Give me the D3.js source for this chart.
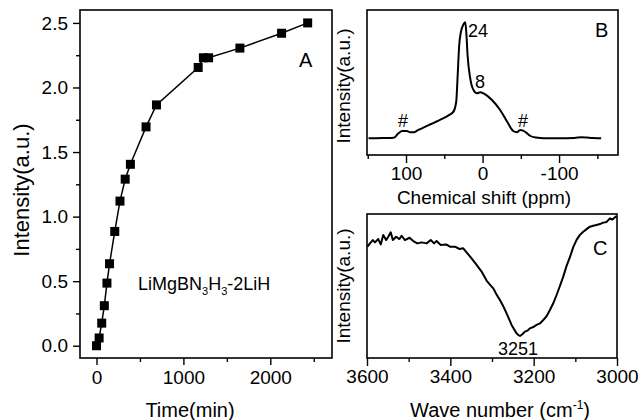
<!DOCTYPE html>
<html>
<head>
<meta charset="utf-8">
<script src="https://cdn.jsdelivr.net/npm/d3@7"></script>
<style>
  body { margin: 0; background: #fff; }
  svg text { font-family: "Liberation Sans", Arial, sans-serif; fill: #000; }
</style>
</head>
<body>
<svg id="fig" width="640" height="420"></svg>
<script>
// panel A: kinetics
const timeMin = [0, 30, 60, 90, 120, 150, 210, 270, 330, 390, 570, 690, 1170, 1230, 1290, 1650, 2130, 2430]
const intensA = [0.0, 0.06, 0.175, 0.31, 0.485, 0.635, 0.885, 1.12, 1.29, 1.405, 1.695, 1.865, 2.155, 2.23, 2.23, 2.305, 2.42, 2.5]

// panel B: NMR (ppm, relative intensity)
const ppm = [149, 130, 116, 110, 105, 99, 94.5, 90, 84, 76, 68, 60, 51, 44, 38, 34.4, 32.7, 30.5, 28.2, 24.8, 22.6, 21.3, 19.6, 16.1, 11.8, 7.3, 3, -3.5, -12.3, -23, -32, -40, -45, -49, -53, -57, -62, -70, -80, -100, -120, -130, -137, -145, -155]
const nmr = [0, 0.002, 0.005, 0.043, 0.063, 0.063, 0.052, 0.052, 0.072, 0.097, 0.121, 0.145, 0.173, 0.2, 0.23, 0.315, 0.517, 0.804, 0.919, 0.983, 1.0, 0.919, 0.718, 0.517, 0.416, 0.388, 0.397, 0.379, 0.33, 0.244, 0.144, 0.063, 0.052, 0.072, 0.066, 0.049, 0.022, 0.006, 0.0, 0.0, 0.003, 0.01, 0.006, 0.002, 0.0]

// panel C: IR (wave number, relative intensity)
const waveNum = [3599, 3593, 3586, 3581, 3573, 3567, 3561, 3554, 3549, 3543, 3538, 3530, 3522, 3517, 3509, 3498, 3489, 3479, 3469, 3457, 3447, 3439, 3433, 3423, 3410, 3401, 3389, 3378, 3369, 3359, 3349, 3337, 3325, 3313, 3305, 3297, 3289, 3281, 3273, 3265, 3259, 3253, 3247, 3241, 3236, 3233, 3227, 3221, 3215, 3209, 3201, 3193, 3185, 3177, 3169, 3161, 3153, 3145, 3137, 3129, 3121, 3113, 3105, 3097, 3089, 3081, 3073, 3065, 3057, 3049, 3041, 3033, 3025, 3017, 3011, 3005, 3001]
const irInt = [0.773, 0.796, 0.819, 0.803, 0.826, 0.789, 0.854, 0.819, 0.842, 0.873, 0.819, 0.842, 0.826, 0.849, 0.819, 0.835, 0.812, 0.796, 0.803, 0.796, 0.819, 0.796, 0.812, 0.785, 0.789, 0.773, 0.773, 0.757, 0.762, 0.727, 0.692, 0.646, 0.6, 0.538, 0.51, 0.484, 0.44, 0.403, 0.36, 0.31, 0.27, 0.23, 0.2, 0.171, 0.158, 0.153, 0.165, 0.183, 0.19, 0.206, 0.215, 0.23, 0.24, 0.264, 0.29, 0.333, 0.38, 0.4375, 0.5, 0.565, 0.64, 0.7, 0.77, 0.82, 0.855, 0.877, 0.895, 0.912, 0.918, 0.924, 0.93, 0.94, 0.945, 0.97, 0.962, 0.977, 0.985]

const xTicksA = [0, 1000, 2000], xMinorA = [500, 1500, 2500]
const yTicksA = [0, 0.5, 1.0, 1.5, 2.0, 2.5], yMinorA = [0.25, 0.75, 1.25, 1.75, 2.25]
const xTicksB = [100, 0, -100], xMinorB = [150, 50, -50, -150]
const xTicksC = [3600, 3400, 3200, 3000], xMinorC = [3500, 3300, 3100]

const svg = d3.select('#fig')
const plain = d => String(d)   // keep ascii hyphen for negatives

function frame(x0, y0, x1, y1) {
    svg.append('rect')
        .attr('x', x0).attr('y', y0)
        .attr('width', x1 - x0).attr('height', y1 - y0)
        .attr('fill', 'none').attr('stroke', '#000').attr('stroke-width', 1.6);
}

function styleAxis(g, fs) {
    g.select('.domain').remove();
    g.selectAll('line').attr('stroke', '#000').attr('stroke-width', 1.4);
    g.selectAll('text').style('font-size', fs + 'px').attr('fill', '#000')
        .style('font-family', '"Liberation Sans", Arial, sans-serif');
}

function label(x, y, txt, fs, anchor) {
    return svg.append('text').attr('x', x).attr('y', y)
        .attr('text-anchor', anchor || 'start')
        .style('font-size', fs + 'px').text(txt);
}

// ---------- A ----------
const xA = d3.scaleLinear().domain([-190, 2710]).range([80, 332])
const yA = d3.scaleLinear().domain([-0.095, 2.6]).range([358, 10])

svg.append('g').attr('transform', 'translate(0,358)')
    .call(d3.axisBottom(xA).tickValues(xTicksA).tickFormat(plain).tickSize(7).tickPadding(6))
    .call(g => styleAxis(g, 19));
svg.append('g').attr('transform', 'translate(0,358)')
    .call(d3.axisBottom(xA).tickValues(xMinorA).tickFormat('').tickSize(4))
    .call(g => styleAxis(g, 19));
svg.append('g').attr('transform', 'translate(80,0)')
    .call(d3.axisLeft(yA).tickValues(yTicksA).tickFormat(d3.format('.1f')).tickSize(7).tickPadding(5))
    .call(g => styleAxis(g, 19));
svg.append('g').attr('transform', 'translate(80,0)')
    .call(d3.axisLeft(yA).tickValues(yMinorA).tickFormat('').tickSize(4))
    .call(g => styleAxis(g, 19));
frame(80, 10, 332, 358);

const ptsA = timeMin.map((t, i) => [t, intensA[i]])
svg.append('path').datum(ptsA)
    .attr('d', d3.line().x(d => xA(d[0])).y(d => yA(d[1])))
    .attr('fill', 'none').attr('stroke', '#000').attr('stroke-width', 1.5);
svg.append('g').selectAll('rect').data(ptsA).join('rect')
    .attr('x', d => xA(d[0]) - 4.5).attr('y', d => yA(d[1]) - 4.5)
    .attr('width', 9).attr('height', 9).attr('fill', '#000');

label(299, 67, 'A', 20);
const formula = label(138, 290, '', 18)
formula.append('tspan').text('LiMgBN')
formula.append('tspan').attr('dy', 5).style('font-size', '11px').text('3')
formula.append('tspan').attr('dy', -5).text('H')
formula.append('tspan').attr('dy', 5).style('font-size', '11px').text('3')
formula.append('tspan').attr('dy', -5).text('-2LiH')
label(190, 417, 'Time(min)', 20, 'middle');
svg.append('text').attr('transform', 'translate(29,190) rotate(-90)')
    .attr('text-anchor', 'middle').style('font-size', '22px').text('Intensity(a.u.)');

// ---------- B ----------
const xB = d3.scaleLinear().domain([151, -177]).range([367, 618])
const yB = d3.scaleLinear().domain([-0.144, 1.106]).range([155, 10])

svg.append('g').attr('transform', 'translate(0,155)')
    .call(d3.axisBottom(xB).tickValues(xTicksB).tickFormat(plain).tickSize(8).tickPadding(4))
    .call(g => styleAxis(g, 19));
svg.append('g').attr('transform', 'translate(0,155)')
    .call(d3.axisBottom(xB).tickValues(xMinorB).tickFormat('').tickSize(4))
    .call(g => styleAxis(g, 19));
frame(367, 10, 618, 155);

svg.append('path').datum(ppm.map((p, i) => [p, nmr[i]]))
    .attr('d', d3.line().x(d => xB(d[0])).y(d => yB(d[1])).curve(d3.curveMonotoneX))
    .attr('fill', 'none').attr('stroke', '#000').attr('stroke-width', 2);

label(595, 37, 'B', 20);
label(468, 37, '24', 18);
label(475, 88, '8', 18);
label(403, 127, '#', 18, 'middle');
label(523, 127, '#', 18, 'middle');
label(484, 204, 'Chemical shift (ppm)', 19, 'middle');
svg.append('text').attr('transform', 'translate(350,86) rotate(-90)')
    .attr('text-anchor', 'middle').style('font-size', '19px').text('Intensity(a.u.)');

// ---------- C ----------
const xC = d3.scaleLinear().domain([3600, 3000]).range([367, 617])
const yC = d3.scaleLinear().domain([0, 1]).range([358, 214])

svg.append('g').attr('transform', 'translate(0,358)')
    .call(d3.axisBottom(xC).tickValues(xTicksC).tickFormat(plain).tickSize(8).tickPadding(4))
    .call(g => styleAxis(g, 19));
svg.append('g').attr('transform', 'translate(0,358)')
    .call(d3.axisBottom(xC).tickValues(xMinorC).tickFormat('').tickSize(4))
    .call(g => styleAxis(g, 19));
frame(367, 214, 617, 358);

svg.append('path').datum(waveNum.map((w, i) => [w, irInt[i]]))
    .attr('d', d3.line().x(d => xC(d[0])).y(d => yC(d[1])))
    .attr('fill', 'none').attr('stroke', '#000').attr('stroke-width', 2).attr('stroke-linejoin', 'round');

label(593, 255, 'C', 20);
label(518, 355, '3251', 18, 'middle');
const wn = label(500, 417, '', 20, 'middle')
wn.append('tspan').text('Wave number (cm')
wn.append('tspan').attr('dy', -8).style('font-size', '12px').text('-1')
wn.append('tspan').attr('dy', 8).text(')')
svg.append('text').attr('transform', 'translate(350,286) rotate(-90)')
    .attr('text-anchor', 'middle').style('font-size', '19px').text('Intensity(a.u.)');
</script>
</body>
</html>
